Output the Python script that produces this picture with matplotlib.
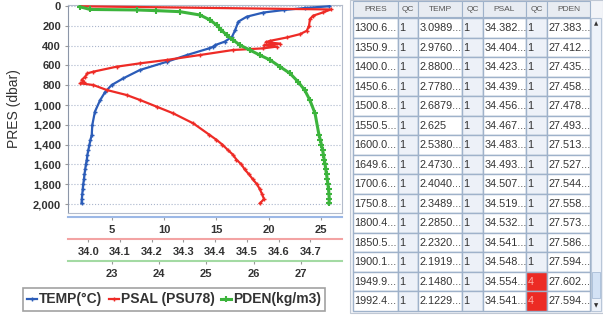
import matplotlib
matplotlib.use("Agg")
import matplotlib.pyplot as plt
from matplotlib.patches import Rectangle
from matplotlib.ticker import FuncFormatter

plt.rcParams['font.family'] = ['Liberation Sans', 'DejaVu Sans']

TAB_PRES = [1300.6, 1350.9, 1400.0, 1450.6, 1500.8, 1550.5, 1600.0, 1649.6,
            1700.6, 1750.8, 1800.4, 1850.5, 1900.1, 1949.9, 1992.4]
TAB_TEMP = [3.0989, 2.9760, 2.8800, 2.7780, 2.6879, 2.625, 2.5380, 2.4730,
            2.4040, 2.3489, 2.2850, 2.2320, 2.1919, 2.1480, 2.1229]
TAB_PSAL = [34.382, 34.404, 34.423, 34.439, 34.456, 34.467, 34.483, 34.493,
            34.507, 34.519, 34.532, 34.541, 34.548, 34.554, 34.541]
TAB_PDEN = [27.383, 27.412, 27.435, 27.458, 27.478, 27.493, 27.513, 27.527,
            27.544, 27.558, 27.573, 27.586, 27.594, 27.602, 27.594]
TAB_QC_PSAL = ["1"] * 13 + ["4", "4"]

pres_temp = [3, 20, 40, 66, 108, 158, 242, 310, 360, 394, 410, 428, 495, 562,
             646, 731, 798, 865, 950, 1067, 1202] + TAB_PRES
temp = [25.8, 23.5, 21.5, 19.5, 17.9, 17.1, 16.8, 16.5, 15.8, 14.9, 14.7, 14.3,
        12.2, 10.3, 7.7, 6.1, 5.0, 4.4, 3.9, 3.4, 3.15] + TAB_TEMP

pres_psal = [3, 35, 64, 98, 132, 200, 250, 284, 318, 352, 365, 380, 395, 410,
             428, 444, 495, 545, 579, 613, 663, 680, 714, 747, 770, 781, 798,
             848, 899, 949, 1017, 1084, 1185] + TAB_PRES
psal = [33.975, 34.765, 34.741, 34.709, 34.699, 34.696, 34.689, 34.668, 34.626,
        34.573, 34.56, 34.605, 34.555, 34.595, 34.55, 34.457, 34.352, 34.247,
        34.163, 34.089, 34.016, 33.997, 33.99, 33.979, 33.985, 33.975, 34.016,
        34.058, 34.121, 34.163, 34.216, 34.268, 34.331] + TAB_PSAL

pres_pden = [8, 35, 40, 47, 57, 91, 141, 192, 242, 293, 343, 394, 444, 495,
             545, 613, 680, 764, 848, 949, 1084] + TAB_PRES
pden = [22.33, 22.55, 23.53, 23.95, 24.44, 24.87, 25.08, 25.22, 25.32, 25.43,
        25.57, 25.71, 25.92, 26.13, 26.35, 26.56, 26.77, 26.94, 27.08, 27.19,
        27.30] + TAB_PDEN

temp_ticks = [5, 10, 15, 20, 25]
psal_ticks = [34.0, 34.1, 34.2, 34.3, 34.4, 34.5, 34.6, 34.7]
pden_ticks = [23, 24, 25, 26, 27]
pres_ticks = list(range(0, 2001, 200))

# table strings as displayed (truncated cells)
tab_headers = ["PRES", "QC", "TEMP", "QC", "PSAL", "QC", "PDEN"]
tab_pres_txt = ["1300.6...", "1350.9...", "1400.0...", "1450.6...", "1500.8...",
                "1550.5...", "1600.0...", "1649.6...", "1700.6...", "1750.8...",
                "1800.4...", "1850.5...", "1900.1...", "1949.9...", "1992.4..."]
tab_temp_txt = ["3.0989...", "2.9760...", "2.8800...", "2.7780...", "2.6879...",
                "2.625", "2.5380...", "2.4730...", "2.4040...", "2.3489...",
                "2.2850...", "2.2320...", "2.1919...", "2.1480...", "2.1229..."]
tab_psal_txt = ["%.3f..." % v for v in TAB_PSAL]
tab_pden_txt = ["%.3f..." % v for v in TAB_PDEN]

BLUE, RED, GREEN = "#2b5cb8", "#ee2b26", "#3cb43c"
TXT = "#333333"

W, H = 603, 320
fig = plt.figure(figsize=(W / 100, H / 100), dpi=100)

# ---------------- profile plot ----------------
L, R, T, B = 68, 342, 5, 213
ax = fig.add_axes([L / W, 1 - B / H, (R - L) / W, (B - T) / H])
ax.set_ylim(2090, -10)
ax.set_yticks(pres_ticks)
ax.yaxis.set_major_formatter(FuncFormatter(lambda v, p: f"{int(v):,}"))
ax.set_xticks([])
ax.tick_params(axis='y', length=2, color="#999999", pad=3, labelsize=8,
               labelcolor=TXT)
for lab in ax.get_yticklabels():
    lab.set_fontweight("bold")
ax.grid(axis='y', linestyle=':', color="#aab6cc", linewidth=0.8)
for s in ax.spines.values():
    s.set_color("#b4bccb")
ax.spines['left'].set_color("#8c96a8")
ax.set_ylabel("PRES (dbar)", fontsize=10, color=TXT)
ax.yaxis.set_label_coords(-0.172, 0.5)


def make_xaxis(offset_px, spine_color, lim, ticks, fmt):
    a = ax.twiny()
    a.xaxis.set_ticks_position('bottom')
    a.xaxis.set_label_position('bottom')
    for side in ['top', 'left', 'right']:
        a.spines[side].set_visible(False)
    a.spines['bottom'].set_position(('outward', offset_px * 0.72))
    a.spines['bottom'].set_color(spine_color)
    a.spines['bottom'].set_linewidth(1.5)
    a.set_xlim(*lim)
    a.set_xticks(ticks)
    a.set_xticklabels([fmt % t for t in ticks], fontweight="bold")
    a.tick_params(axis='x', length=2.5, color="#999999", pad=3.2,
                  labelsize=8, labelcolor=TXT)
    return a


ax_t = make_xaxis(4, "#9cb8e6", (0.83, 27.0), temp_ticks, "%d")
ax_s = make_xaxis(26, "#f3a3a3", (33.936, 34.80), psal_ticks, "%.1f")
ax_d = make_xaxis(48, "#a3daa3", (22.08, 27.87), pden_ticks, "%d")

l_t, = ax_t.plot(temp, pres_temp, color=BLUE, lw=1.6, marker='+', ms=3, mew=1)
l_s, = ax_s.plot(psal, pres_psal, color=RED, lw=1.6, marker='+', ms=3, mew=1)
l_d, = ax_d.plot(pden, pres_pden, color=GREEN, lw=2.2, marker='+', ms=4.5, mew=1.5)

leg = fig.legend([l_t, l_s, l_d], ["TEMP(°C)", "PSAL (PSU78)", "PDEN(kg/m3)"],
                 loc='center', bbox_to_anchor=(174 / W, 1 - 299.5 / H), ncol=3,
                 frameon=True, fancybox=False, edgecolor="#8a8a8a",
                 prop={'size': 10, 'weight': 'bold'}, handlelength=0.7,
                 handletextpad=0.15, columnspacing=0.5, borderpad=0.3,
                 numpoints=1, borderaxespad=0)
leg.get_frame().set_linewidth(1.2)
for t in leg.get_texts():
    t.set_color(TXT)

# ---------------- data table ----------------
tab = fig.add_axes([0, 0, 1, 1])
tab.set_xlim(0, W)
tab.set_ylim(H, 0)
tab.axis('off')
tab.patch.set_visible(False)

col_edges = [353, 398, 418, 462, 483, 526, 547, 590]
head_top, head_bot = 1, 17
row0, row_h = 18, 19.5
border = "#9fb2ca"

tab.add_patch(Rectangle((350, 0), 253, row0 + 15 * row_h + 2, facecolor="#f2f4f8",
                        edgecolor="#c0c8d4", lw=0.8))
for i, name in enumerate(tab_headers):
    x0, x1 = col_edges[i], col_edges[i + 1]
    tab.add_patch(Rectangle((x0, head_top), x1 - x0, head_bot - head_top,
                            facecolor="#e8ecf2", edgecolor=border, lw=0.8))
    tab.text((x0 + x1) / 2, (head_top + head_bot) / 2 + 0.5, name, fontsize=6,
             color="#555555", ha='center', va='center')

columns = [tab_pres_txt, ["1"] * 15, tab_temp_txt, ["1"] * 15,
           tab_psal_txt, TAB_QC_PSAL, tab_pden_txt]
for r in range(15):
    y = row0 + r * row_h
    for c, col in enumerate(columns):
        x0, x1 = col_edges[c], col_edges[c + 1]
        qc = c in (1, 3, 5)
        fc = "#edf1f8" if qc else "white"
        txt_color = TXT
        if qc and col[r] == "4":
            fc = "#ec2b24"
            txt_color = "#ffb0a8"
        tab.add_patch(Rectangle((x0, y), x1 - x0, row_h, facecolor=fc,
                                edgecolor=border, lw=1.0))
        tab.text(x0 + 1.5, y + row_h / 2 + 0.5, col[r], fontsize=7.8,
                 color=txt_color, ha='left', va='center')

# scrollbar
sb_x0, sb_x1 = 591, 601
sb_bot = row0 + 15 * row_h
tab.add_patch(Rectangle((sb_x0, row0), sb_x1 - sb_x0, sb_bot - row0,
                        facecolor="#eef3fa", edgecolor="#b8c6d8", lw=0.8))
tab.add_patch(Rectangle((sb_x0 + 1, 272), sb_x1 - sb_x0 - 2, 26,
                        facecolor="#d3e2f5", edgecolor="#a8bcd6", lw=0.6))
tab.text((sb_x0 + sb_x1) / 2, row0 + 6, "▲", fontsize=4, color="#333333",
         ha='center', va='center', family="DejaVu Sans")
tab.text((sb_x0 + sb_x1) / 2, sb_bot - 5, "▼", fontsize=4, color="#333333",
         ha='center', va='center', family="DejaVu Sans")

fig.savefig("out.png", dpi=100)
